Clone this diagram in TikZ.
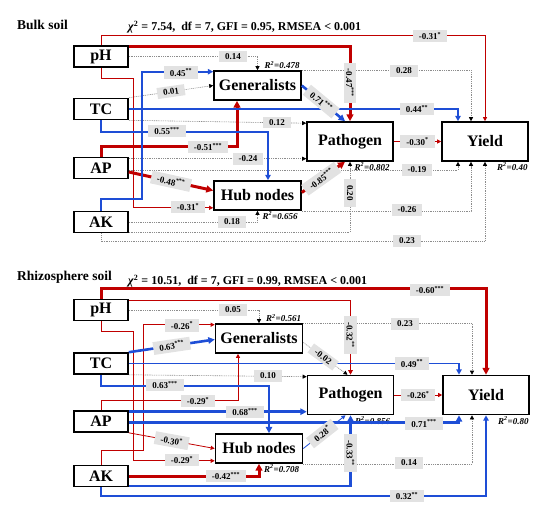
\documentclass[tikz,border=0pt]{standalone}
\usepackage{fontspec}
\setmainfont{Liberation Serif}
\usetikzlibrary{arrows.meta,positioning}

\definecolor{sigred}{RGB}{192,0,0}
\definecolor{sigblue}{RGB}{30,78,214}
\definecolor{lblgray}{RGB}{226,226,226}

\begin{document}
\begin{tikzpicture}
	[x=1pt,y=-1pt,>={Triangle[length=3pt 1.3,width=3pt 1.3]},
		varbox/.style={draw,line width=1.6pt,fill=white,minimum width=54pt,minimum height=21pt,inner sep=0pt,font=\bfseries\fontsize{16}{18}\selectfont},
		facbox/.style={varbox,minimum width=87pt,minimum height=29pt},
		outbox/.style={varbox,minimum width=86pt,minimum height=39pt},
		coef/.style={fill=lblgray,inner xsep=6pt,inner ysep=2.5pt,font=\bfseries\fontsize{9}{10}\selectfont},
		rsq/.style={inner sep=1pt,font=\bfseries\itshape\fontsize{9}{10}\selectfont},
		paneltitle/.style={anchor=west,inner sep=0pt,font=\bfseries\fontsize{13.5}{15}\selectfont},
		fitline/.style={anchor=west,inner sep=0pt,font=\bfseries\fontsize{12}{14}\selectfont},
		redthick/.style={->,sigred,line width=3pt},
		redmid/.style={->,sigred,line width=1.3pt},
		redthin/.style={->,sigred,line width=0.8pt},
		bluethick/.style={->,sigblue,line width=2.6pt},
		bluemid/.style={->,sigblue,line width=1.8pt},
		bluethin/.style={->,sigblue,line width=0.8pt},
		grayline/.style={-{Triangle[length=4pt,width=4pt,black]},black!45,line width=0.6pt,dash pattern=on 1pt off 0.8pt}]

	\useasboundingbox (0,0) rectangle (544,517);

	% bulk soil
	\node[paneltitle] (title1) at (17,25) {Bulk soil};
	\node[fitline] (fit1) at (128,27) {\textit{χ}\textsuperscript{2} = 7.54,\ \ df = 7, GFI = 0.95, RMSEA < 0.001};

	\node[varbox] (pH1) at (101,56.5) {pH};
	\node[varbox] (TC1) at (101,109) {TC};
	\node[varbox] (AP1) at (101,168) {AP};
	\node[varbox] (AK1) at (101,222) {AK};
	\node[facbox] (Gen1) at (257.5,85.5) {Generalists};
	\node[facbox] (Hub1) at (257.5,195.5) {Hub nodes};
	\node[outbox] (Path1) at (350,141.5) {Pathogen};
	\node[outbox] (Yld1) at (485,141.5) {Yield};

	\node[rsq,anchor=south east] at ([xshift=-1pt]Gen1.north east) {R\textsuperscript{2}=0.478};
	\node[rsq,anchor=north east] at ([xshift=-3pt]Path1.south east) {R\textsuperscript{2}=0.802};
	\node[rsq,anchor=north east] at (Yld1.south east) {R\textsuperscript{2}=0.40};
	\node[rsq,anchor=north east] at ([xshift=-3pt]Hub1.south east) {R\textsuperscript{2}=0.656};

	\draw[grayline] (pH1.east) -| (Gen1.north);
	\draw[grayline] (Gen1.north east) -| ([xshift=-14pt]Yld1.north);
	\draw[grayline] (TC1.north east) -- (Gen1.west);
	\draw[grayline] (TC1.south east) -- ([yshift=-2pt]Path1.north west);
	\draw[grayline] ([yshift=-2pt]AP1.north east) -- ([yshift=-2pt]AP1.north east -| Path1.west);
	\draw[grayline] ([yshift=-2pt]AP1.east) -| ([xshift=-27pt]Yld1.south);
	\draw[grayline] (AK1.east) -| (Hub1.south);
	\draw[grayline] ([yshift=1.5pt]AK1.south east) -| (Path1.south);
	\draw[grayline] (AK1.south) -- ++(0,8) -| (Yld1.south);
	\draw[grayline] (Hub1.south east) -| ([xshift=-14pt]Yld1.south);
	\draw[redthin] (pH1.north) -- ++(0,-10) -| (Yld1.north);
	\draw[redthin] (pH1.south) -- ++(0,11) -- ++(32,0) |- ([yshift=3pt]Hub1.south west);
	\draw[redthick] ([yshift=-1.5pt]pH1.north east) -| (Path1.north);
	\draw[redthick] (AP1.north) -- ++(0,-10) -| ([xshift=-20.5pt]Gen1.south);
	\draw[redthick] ([yshift=-4pt]AP1.east) -- ([yshift=5pt]Hub1.west);
	\draw[redthick] ([yshift=3pt]Hub1.east) -- ([xshift=-5pt]Path1.south);
	\draw[redthin] (Path1) -- (Yld1);
	\draw[bluemid] (AK1.north) -- ++(0,-12) -- ++(41,0) |- ([yshift=-1.5pt]Gen1.north west);
	\draw[bluemid] (TC1.east) -| ([xshift=-27pt]Yld1.north);
	\draw[bluemid] (TC1.south) -- ++(0,12) -| ([xshift=10.5pt]Hub1.north);
	\draw[bluethick] (Gen1.east) -- ([xshift=-5pt]Path1.north);

	\node[coef] at (430,36) {-0.31\textsuperscript{*}};
	\node[coef,rotate=-90] at (350,83) {-0.47\textsuperscript{***}};
	\node[coef] at (233,56.5) {0.14};
	\node[coef] at (404,71) {0.28};
	\node[coef] at (181,72.5) {0.45\textsuperscript{**}};
	\path (TC1.north east) -- (Gen1.west) node[coef,sloped,midway] {0.01};
	\node[coef] at (277,122.5) {0.12};
	\node[coef] at (417,109) {0.44\textsuperscript{**}};
	\node[coef] at (167,131) {0.55\textsuperscript{***}};
	\node[coef] at (208,147) {-0.51\textsuperscript{***}};
	\node[coef] at (248,159) {-0.24};
	\node[coef] at (417,170) {-0.19};
	\path ([yshift=-4pt]AP1.east) -- ([yshift=5pt]Hub1.west) node[coef,sloped,midway] {-0.48\textsuperscript{***}};
	\path ([yshift=3pt]Hub1.east) -- ([xshift=-5pt]Path1.south) node[coef,sloped,pos=0.45] {-0.85\textsuperscript{***}};
	\path (Gen1.east) -- ([xshift=-5pt]Path1.north) node[coef,sloped,pos=0.45] {0.71\textsuperscript{***}};
	\node[coef,rotate=-90] at (350,193) {0.20};
	\node[coef] at (232,222) {0.18};
	\node[coef] at (407,241) {0.23};
	\node[coef] at (407,210) {-0.26};
	\path (Path1) -- (Yld1) node[coef,midway] {-0.30\textsuperscript{*}};
	\node[coef] at (188,207) {-0.31\textsuperscript{*}};

	% rhizosphere soil
	\node[paneltitle] (title2) at (17,277) {Rhizosphere soil};
	\node[fitline] (fit2) at (128,281) {\textit{χ}\textsuperscript{2} = 10.51,\ \ df = 7, GFI = 0.99, RMSEA < 0.001};

	\node[varbox] (pH2) at (101,310) {pH};
	\node[varbox] (TC2) at (101,363.5) {TC};
	\node[varbox] (AP2) at (101,421.5) {AP};
	\node[varbox] (AK2) at (101,476) {AK};
	\node[facbox] (Gen2) at (259,338.5) {Generalists};
	\node[facbox] (Hub2) at (259,448.5) {Hub nodes};
	\node[outbox] (Path2) at (350.5,395) {Pathogen};
	\node[outbox] (Yld2) at (486,395) {Yield};

	\node[rsq,anchor=south east] at ([xshift=-1pt]Gen2.north east) {R\textsuperscript{2}=0.561};
	\node[rsq,anchor=north east] at ([xshift=-3pt]Path2.south east) {R\textsuperscript{2}=0.856};
	\node[rsq,anchor=north east] at (Yld2.south east) {R\textsuperscript{2}=0.80};
	\node[rsq,anchor=north east] at ([xshift=-3pt]Hub2.south east) {R\textsuperscript{2}=0.708};

	\draw[grayline] (pH2.east) -| (Gen2.north);
	\draw[grayline] (Gen2.north east) -| ([xshift=-14pt]Yld2.north);
	\draw[grayline] (TC2.south east) -- ([yshift=-2pt]Path2.north west);
	\draw[grayline] ([yshift=-4pt]Gen2.east) -- ([xshift=-3pt]Path2.north);
	\draw[grayline] (Hub2.south east) -| ([xshift=-14pt]Yld2.south);
	\draw[redthick] (pH2.north) -- ++(0,-10) -| (Yld2.north);
	\draw[redmid] ([yshift=-1.5pt]pH2.north east) -| (Path2.north);
	\draw[redthin] (pH2.south) -- ++(0,10) -- ++(32,0) |- ([yshift=3pt]Hub2.south west);
	\draw[redthin] (AK2.north) -- ++(0,-14) -- ++(42,0) |- ([yshift=-1.5pt]Gen2.north west);
	\draw[redthin] (AP2.north) -- ++(0,-10) -| ([xshift=-21pt]Gen2.south);
	\draw[redthin] (AP2.south east) -- (Hub2.west);
	\draw[redthick] (AK2.east) -| (Hub2.south);
	\draw[redthin] (Path2) -- (Yld2);
	\draw[bluethick] (TC2.north east) -- ([yshift=-1pt]Gen2.west);
	\draw[bluemid] (TC2.east) -| ([xshift=-27pt]Yld2.north);
	\draw[bluethick] (TC2.south) -- ++(0,11) -| ([xshift=10pt]Hub2.north);
	\draw[bluethick] ([yshift=-1.5pt]AP2.north east) -- ([yshift=-1.5pt]AP2.north east -| Path2.west);
	\draw[bluethick] ([yshift=-1pt]AP2.east) -| ([xshift=-27pt]Yld2.south);
	\draw[bluethin] (Hub2.east) -- ([xshift=-5pt]Path2.south);
	\draw[bluethick] ([yshift=1.5pt]AK2.south east) -| (Path2.south);
	\draw[bluemid] (AK2.south) -- ++(0,9) -| (Yld2.south);

	\node[coef] at (430,290) {-0.60\textsuperscript{***}};
	\node[coef,rotate=-90] at (350.5,335) {-0.32\textsuperscript{**}};
	\node[coef] at (233,310) {0.05};
	\node[coef] at (405,324) {0.23};
	\node[coef] at (182,325.5) {-0.26\textsuperscript{*}};
	\path (TC2.north east) -- ([yshift=-1pt]Gen2.west) node[coef,sloped,midway] {0.63\textsuperscript{***}};
	\path ([yshift=-4pt]Gen2.east) -- ([xshift=-3pt]Path2.north) node[coef,sloped,pos=0.45] {-0.02};
	\node[coef] at (412,363.5) {0.49\textsuperscript{**}};
	\node[coef] at (268,376) {0.10};
	\node[coef] at (165,385) {0.63\textsuperscript{***}};
	\node[coef] at (198,401) {-0.29\textsuperscript{*}};
	\node[coef] at (245,412) {0.68\textsuperscript{***}};
	\node[coef] at (424,423.5) {0.71\textsuperscript{***}};
	\path (AP2.south east) -- (Hub2.west) node[coef,sloped,midway] {-0.30\textsuperscript{*}};
	\path (Hub2.east) -- ([xshift=-5pt]Path2.south) node[coef,sloped,pos=0.45] {0.28\textsuperscript{*}};
	\node[coef] at (182,460) {-0.29\textsuperscript{*}};
	\node[coef] at (226,476) {-0.42\textsuperscript{***}};
	\node[coef,rotate=-90] at (350.5,453) {-0.33\textsuperscript{**}};
	\node[coef] at (409,463) {0.14};
	\node[coef] at (407,496) {0.32\textsuperscript{**}};
	\path (Path2) -- (Yld2) node[coef,midway] {-0.26\textsuperscript{*}};

\end{tikzpicture}
\end{document}
